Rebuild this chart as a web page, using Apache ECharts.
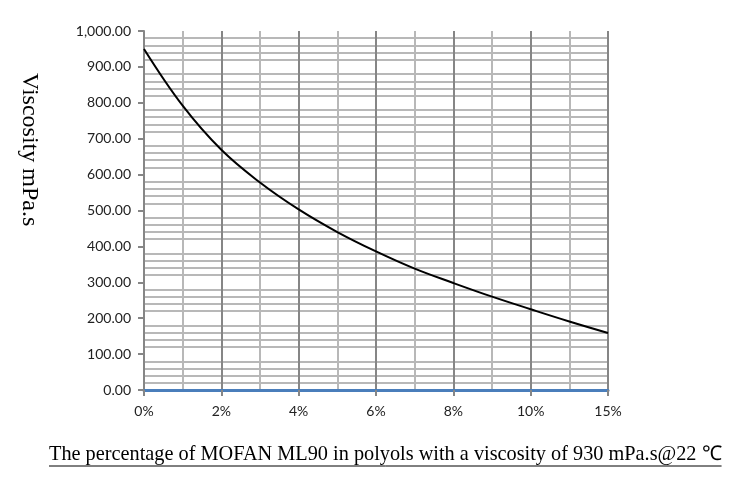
<!DOCTYPE html>
<html><head><meta charset="utf-8">
<script src="https://cdn.jsdelivr.net/npm/echarts@6/dist/echarts.min.js"></script>
<style>html,body{margin:0;padding:0;background:#fff}#c{width:741px;height:480px}</style>
</head><body><div id="c"></div>
<script>
const categories = ['0%','1%','2%','3%','4%','5%','6%','7%','8%','9%','10%','12%','15%'];
const viscosity = [950, 792, 669, 578, 503, 440, 386, 338, 298, 260, 225, 191, 159];
const yMin = 0, yMax = 1000, yStep = 100;
const yName = 'Viscosity mPa.s';
const xTitle = 'The percentage of MOFAN ML90 in polyols with a viscosity of 930 mPa.s@22 ℃';

const serif = '"Liberation Serif", "Times New Roman", serif';
const titleSize = 20.3;
const cv = document.createElement('canvas').getContext('2d');
cv.font = titleSize + 'px ' + serif;
const tw = cv.measureText(xTitle).width;

const chart = echarts.init(document.getElementById('c'));
chart.setOption({
  animation: false,
  grid: {left: 144, right: 133, top: 31, bottom: 90},
  xAxis: {
    type: 'category', data: categories, boundaryGap: false,
    axisLine: {lineStyle: {color: '#4a7ebb', width: 3}},
    axisTick: {show: true, interval: 1, length: 6, lineStyle: {color: '#868686', width: 2}},
    axisLabel: {interval: 1, margin: 14, color: '#222', fontFamily: 'Lato', fontSize: 14},
    splitLine: {show: true, interval: 0, lineStyle: {color: ['#868686', '#b8b8b8'], width: 2}}
  },
  yAxis: {
    type: 'value', min: yMin, max: yMax, interval: yStep,
    axisLine: {show: true, lineStyle: {color: '#868686', width: 2}},
    axisTick: {show: true, length: 6, lineStyle: {color: '#868686', width: 2}},
    axisLabel: {margin: 13, color: '#222', fontFamily: 'Lato', fontSize: 14,
      formatter: v => v.toLocaleString('en-US', {minimumFractionDigits: 2, maximumFractionDigits: 2})},
    splitLine: {show: false},
    minorTick: {show: false, splitNumber: 5},
    minorSplitLine: {show: true, lineStyle: {color: '#b8b8b8', width: 2}}
  },
  series: [{
    type: 'line', data: viscosity, smooth: 0.4, symbol: 'none',
    lineStyle: {color: '#000', width: 2}, z: 5
  }],
  graphic: [
    {type: 'text', x: 41, y: 73, rotation: -Math.PI / 2,
      style: {text: yName, font: '24px ' + serif, fill: '#000', textAlign: 'left', textVerticalAlign: 'top'}},
    {type: 'text', x: 49, y: 445,
      style: {text: xTitle, font: titleSize + 'px ' + serif, fill: '#000', textAlign: 'left', textVerticalAlign: 'top'}},
    {type: 'line', shape: {x1: 49, y1: 466, x2: 49 + tw, y2: 466}, style: {stroke: '#000', lineWidth: 1}}
  ]
});
</script></body></html>
